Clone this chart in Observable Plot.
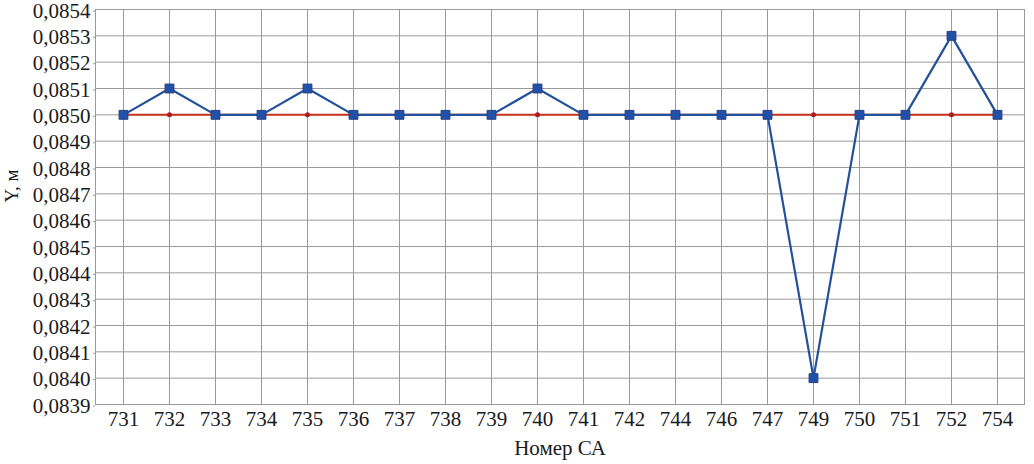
<!DOCTYPE html>
<html><head><meta charset="utf-8">
<script src="https://cdn.jsdelivr.net/npm/d3@7"></script>
<script src="https://cdn.jsdelivr.net/npm/@observablehq/plot@0.6"></script>
<style>body{margin:0;background:#fff;} #c{position:absolute;left:0;top:0;}</style>
</head><body><div id="c"></div>
<script>
const categories = ["731","732","733","734","735","736","737","738","739","740","741","742","744","746","747","749","750","751","752","754"];
const measured = [0.0850,0.0851,0.0850,0.0850,0.0851,0.0850,0.0850,0.0850,0.0850,0.0851,0.0850,0.0850,0.0850,0.0850,0.0850,0.0840,0.0850,0.0850,0.0853,0.0850];
const nominal = [0.0850,0.0850,0.0850,0.0850,0.0850,0.0850,0.0850,0.0850,0.0850,0.0850,0.0850,0.0850,0.0850,0.0850,0.0850,0.0850,0.0850,0.0850,0.0850,0.0850];
const yTicks = [0.0839,0.0840,0.0841,0.0842,0.0843,0.0844,0.0845,0.0846,0.0847,0.0848,0.0849,0.0850,0.0851,0.0852,0.0853,0.0854];

const blue = categories.map((c,i)=>({c, v: measured[i]}));
const red = categories.map((c,i)=>({c, v: nominal[i]}));
const fmt = d => d.toFixed(4).replace(".", ",");

const chart = Plot.plot({
  width: 1034, height: 464,
  marginLeft: 95, marginRight: 10, marginTop: 9, marginBottom: 60,
  style: {fontFamily: "Liberation Serif", fontSize: "21px", color: "#1a1a1a", background: "#fff"},
  x: {type: "point", domain: categories, padding: 0.5, label: null},
  y: {domain: [0.0839, 0.0854], label: null},
  marks: [
    Plot.gridX(categories, {stroke: "#9a9a9a", strokeOpacity: 1, strokeWidth: 1}),
    Plot.gridY(yTicks, {stroke: "#9a9a9a", strokeOpacity: 1, strokeWidth: 1}),
    Plot.frame({stroke: "#9a9a9a"}),
    Plot.axisY(yTicks, {tickFormat: fmt, tickSize: 2, tickPadding: 3, dy: 1.5, stroke: "#9a9a9a", fontSize: 21}),
    Plot.axisX(categories, {tickSize: 0, tickPadding: 7, fontSize: 21}),
    Plot.line(red, {x: "c", y: "v", stroke: "#c8321e", strokeWidth: 2}),
    Plot.dot(red, {x: "c", y: "v", r: 2.5, fill: "#a81e1e", stroke: "none"}),
    Plot.line(blue, {x: "c", y: "v", stroke: "#24509c", strokeWidth: 2.2}),
    Plot.dot(blue, {x: "c", y: "v", symbol: "square", r: 5, fill: "#2050a8", stroke: "#2a3f80", strokeWidth: 1}),
    Plot.text(["Номер СА"], {frameAnchor: "bottom", lineAnchor: "middle", dy: 44, fontSize: 21, fill: "#1a1a1a"}),
    Plot.text(["Y, м"], {frameAnchor: "left", textAnchor: "middle", lineAnchor: "middle", rotate: -90, dx: -84, dy: -21, fontSize: 19, fill: "#1a1a1a"})
  ]
});
document.getElementById("c").appendChild(chart);
</script>
</body></html>
